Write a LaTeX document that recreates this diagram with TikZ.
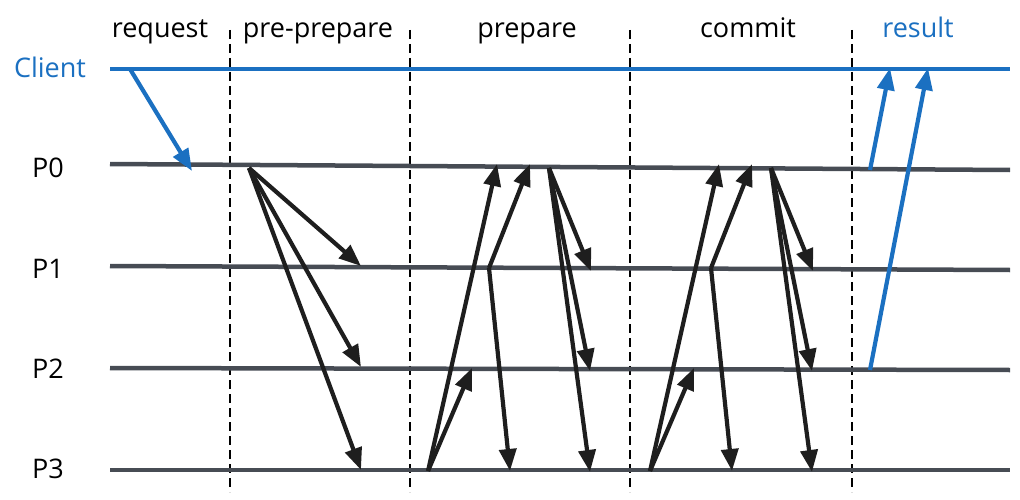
\documentclass[tikz,border=0pt]{standalone}
\usepackage{fontspec}
\setmainfont{Open Sans}
\usetikzlibrary{arrows.meta}
\definecolor{cblue}{HTML}{1B70C1}
\definecolor{lgray}{HTML}{474C54}
\definecolor{ablack}{HTML}{1E1E1E}
\tikzset{
  lbl/.style={font=\fontsize{27}{32}\selectfont, inner sep=0pt, anchor=base},
  proc/.style={draw=lgray, line width=4.5pt},
  cli/.style={draw=cblue, line width=4.5pt},
  phase/.style={draw=black, line width=2.6pt, dash pattern=on 9pt off 5pt},
  msg/.style={draw=ablack, line width=4.2pt, -{Triangle[length=22pt,width=17pt]}, line join=round},
  bmsg/.style={draw=cblue, line width=4.2pt, -{Triangle[length=22pt,width=17pt]}},
}
\begin{document}
\begin{tikzpicture}[x=1pt,y=-1pt]
\useasboundingbox (0,0) rectangle (1020,500);
% phase separators
\foreach \n/\x in {a/230,b/410,c/630,d/852}{
  \coordinate (s\n t) at (\x,30);
  \coordinate (s\n b) at (\x,492);
  \draw[phase] (s\n t) -- (s\n b);
}
% labels
\node[lbl] (lreq) at (160,38) {request};
\node[lbl] (lpre) at (318,38) {pre-prepare};
\node[lbl] (lprep) at (527,38) {prepare};
\node[lbl] (lcom) at (748,38) {commit};
\node[lbl, text=cblue] (lres) at (918,38) {result};
\node[lbl, text=cblue] (lcli) at (50,78) {Client};
\node[lbl] (lp0) at (48,178) {P0};
\node[lbl] (lp1) at (48,278) {P1};
\node[lbl] (lp2) at (48,378) {P2};
\node[lbl] (lp3) at (48,478) {P3};
% timelines
\coordinate (cl) at (110,69);  \coordinate (cr) at (1010,69);
\coordinate (p0l) at (110,164); \coordinate (p0r) at (1010,170);
\coordinate (p1l) at (110,266); \coordinate (p1r) at (1010,270);
\coordinate (p2l) at (110,368); \coordinate (p2r) at (1010,370);
\coordinate (p3l) at (110,470); \coordinate (p3r) at (1010,470);
\draw[proc] (p0l) -- (p0r);
\draw[proc] (p1l) -- (p1r);
\draw[proc] (p2l) -- (p2r);
\draw[proc] (p3l) -- (p3r);
\draw[cli] (cl) -- (cr);
% request
\coordinate (rq0) at (130,69); \coordinate (rq1) at (192,171);
\draw[bmsg] (rq0) -- (rq1);
% pre-prepare
\coordinate (pp0) at (249,168);
\coordinate (pp1) at (361,266);
\coordinate (pp2) at (361,367);
\coordinate (pp3) at (361,470);
\draw[msg] (pp0) -- (pp1);
\draw[msg] (pp0) -- (pp2);
\draw[msg] (pp0) -- (pp3);
% prepare & commit (same pattern)
\foreach \n/\d in {A/0,B/222}{
  \coordinate (\n o3) at (428+\d,471);
  \coordinate (\n t30) at (497+\d,164);
  \coordinate (\n t32) at (472+\d,368);
  \coordinate (\n k1) at (489+\d,268);
  \coordinate (\n t10) at (530+\d,164);
  \coordinate (\n t13) at (510+\d,471);
  \coordinate (\n o0) at (549+\d,168);
  \coordinate (\n t01) at (591+\d,271);
  \coordinate (\n t02) at (590+\d,371);
  \coordinate (\n t03) at (590+\d,472);
  \draw[msg] (\n o3) -- (\n t30);
  \draw[msg] (\n o3) -- (\n t32);
  \draw[msg] (\n k1) -- (\n t10);
  \draw[msg] (\n k1) -- (\n t13);
  \draw[msg] (\n o0) -- (\n t01);
  \draw[msg] (\n o0) -- (\n t02);
  \draw[msg] (\n o0) -- (\n t03);
}
% result
\coordinate (r0) at (870,170); \coordinate (r0t) at (890,68);
\coordinate (r2) at (870,370); \coordinate (r2t) at (928,68);
\draw[bmsg] (r0) -- (r0t);
\draw[bmsg] (r2) -- (r2t);
\end{tikzpicture}
\end{document}
